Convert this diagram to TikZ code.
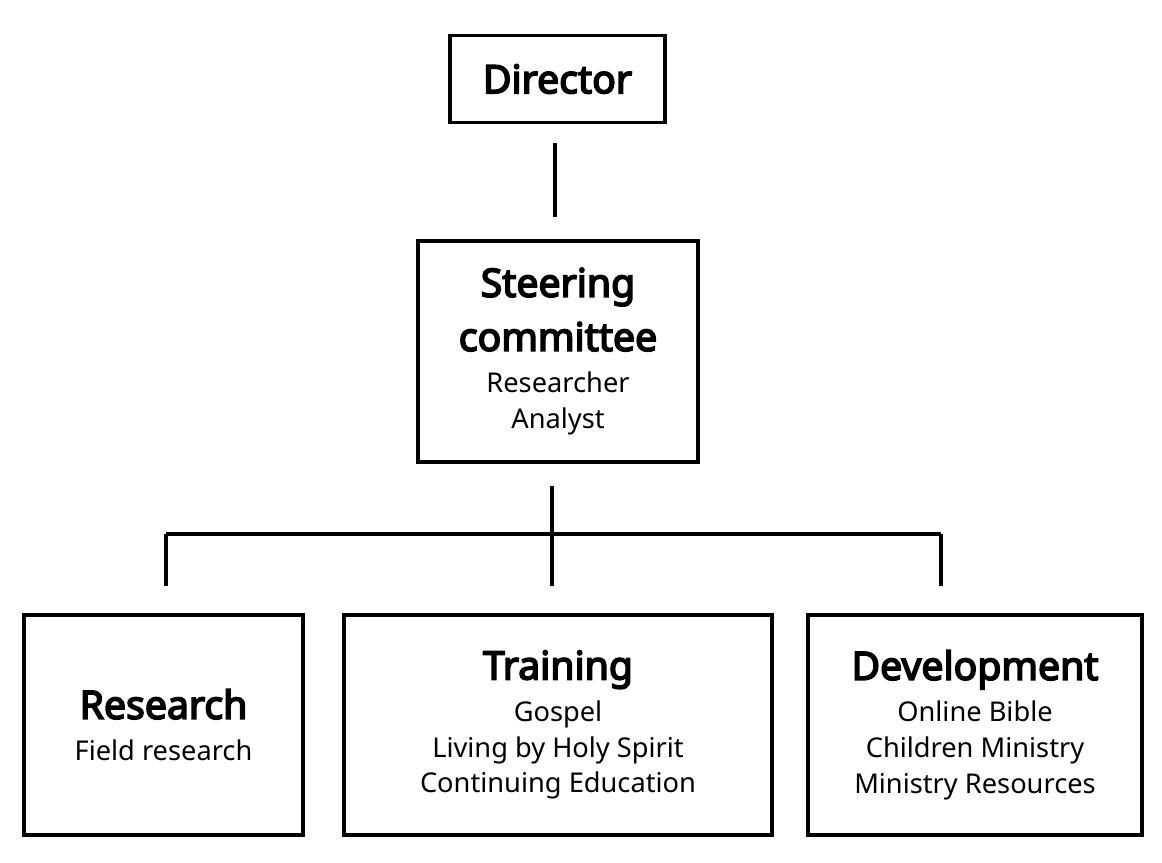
\documentclass[tikz,border=0pt]{standalone}
\usepackage{fontspec}
\setmainfont{Noto Sans}[AutoFakeBold=4.2]
\usetikzlibrary{positioning}
\usetikzlibrary{calc}

\tikzset{
  unit/.style={draw, line width=2.2pt, align=center, inner sep=0pt,
    font=\fontsize{15.5pt}{20.4pt}\selectfont},
  link/.style={line width=2.2pt}
}
\newcommand{\unitname}[1]{{\fontsize{22.3pt}{26pt}\selectfont\bfseries #1}}

\begin{document}
\begin{tikzpicture}[x=0.02cm, y=-0.02cm]
        \useasboundingbox (0,0) rectangle (1162,862);

        % Top: director and steering committee
        \node[unit, minimum width=4.3cm, minimum height=1.74cm] (director) at (557.5,79) {\unitname{Director}};
        \node[unit, minimum width=5.6cm, minimum height=4.42cm] (steering) at (558,351.5)
            {\unitname{Steering}\\[8pt]\unitname{committee}\\[3.4pt]Researcher\\Analyst};

        % Bottom: three departments
        \node[unit, minimum width=5.58cm, minimum height=4.4cm] (research) at (163.5,725)
            {\unitname{Research}\\[3.4pt]Field research};
        \node[unit, minimum width=8.56cm, minimum height=4.4cm] (training) at (558,725)
            {\unitname{Training}\\[3.4pt]Gospel\\Living by Holy Spirit\\Continuing Education};
        \node[unit, minimum width=6.68cm, minimum height=4.4cm] (development) at (975,725)
            {\unitname{Development}\\[3.4pt]Online Bible\\Children Ministry\\Ministry Resources};

        % Connectors
        \draw[link, shorten <=0.38cm, shorten >=0.44cm] (director.south -| 555,0) -- (steering.north -| 555,0);
        \draw[link, shorten <=0.44cm, shorten >=0.54cm] (steering.south -| 552,0) -- (training.north -| 552,0);

        \coordinate (busleft) at (166,534);
        \coordinate (busright) at (941,534);
        \draw[link] (busleft) -- (busright);
        \draw[link, shorten >=0.54cm] (busleft) -- (research.north -| busleft);
        \draw[link, shorten >=0.54cm] (busright) -- (development.north -| busright);

    \end{tikzpicture}
\end{document}
